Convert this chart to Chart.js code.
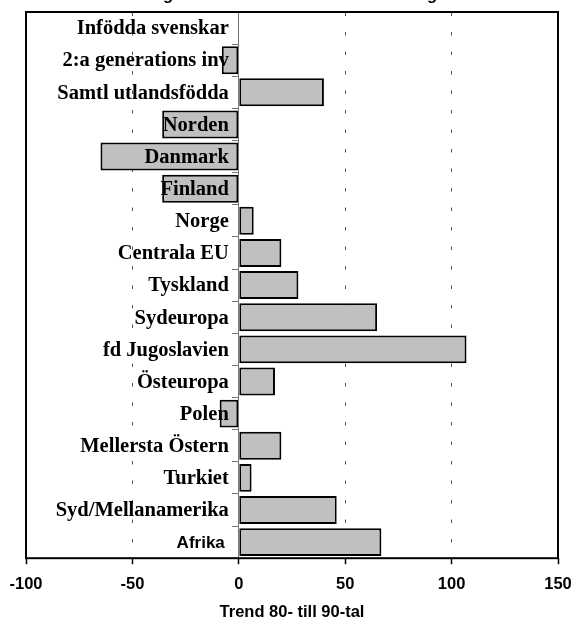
<!DOCTYPE html>
<html>
<head>
<meta charset="utf-8">
<script src="https://cdn.jsdelivr.net/npm/chart.js@4.4.1/dist/chart.umd.min.js"></script>
<style>
  html, body { margin: 0; padding: 0; background: #fff; }
  #wrap { width: 575px; height: 619px; }
</style>
</head>
<body>
<div id="wrap"><canvas id="trendChart" width="575" height="619"></canvas></div>
<script>
// Trend 80- till 90-tal per ursprungsgrupp

// ------------------------------------------------------------
// DATA
// ------------------------------------------------------------
const categories = [
    'Infödda svenskar', '2:a generations inv', 'Samtl utlandsfödda', 'Norden',
    'Danmark', 'Finland', 'Norge', 'Centrala EU', 'Tyskland', 'Sydeuropa',
    'fd Jugoslavien', 'Östeuropa', 'Polen', 'Mellersta Östern', 'Turkiet',
    'Syd/Mellanamerika', 'Afrika'
];
const trendValues = [0, -8, 40, -36, -65, -36, 7, 20, 28, 65, 107, 17, -9, 20, 6, 46, 67];
const xTicks = [-100, -50, 0, 50, 100, 150];
const dashedGridAt = [-50, 50, 100];

const titleText = 'Förändring i förvärvsfrekvens efter landbakgrund';
const axisTitle = 'Trend 80- till 90-tal';

// fonts
const serifBold = 'bold 20.5px "Liberation Serif", "Times New Roman", serif';
const afrikaFont = 'bold 17px "Liberation Sans", Arial, sans-serif';
const sansBold = { family: '"Liberation Sans", Arial, sans-serif', size: 16.5, weight: 'bold' };

// ------------------------------------------------------------
// PLUGINS
// ------------------------------------------------------------
// frame round the plot area
const frameBox = {
    id: 'frameBox',
    afterDraw(chart) {
        const { ctx, chartArea: a } = chart;
        ctx.save();
        ctx.strokeStyle = '#000';
        ctx.lineWidth = 2;
        ctx.strokeRect(a.left, a.top, a.right - a.left, a.bottom - a.top);
        ctx.restore();
    }
};

// category names, right-aligned just left of the zero line, above the bars
const categoryNames = {
    id: 'categoryNames',
    afterDatasetsDraw(chart) {
        const { ctx, scales: { x, y } } = chart;
        const right = x.getPixelForValue(0) - 10;
        ctx.save();
        ctx.fillStyle = '#000';
        ctx.textAlign = 'right';
        ctx.textBaseline = 'middle';
        categories.forEach((name, i) => {
            const isLast = i === categories.length - 1;
            ctx.font = isLast ? afrikaFont : serifBold;
            ctx.fillText(name, isLast ? right - 4 : right, y.getPixelForValue(i) + 1);
        });
        ctx.restore();
    }
};

// chart title, cut off at the top edge of the picture
const clippedTitle = {
    id: 'clippedTitle',
    afterDraw(chart) {
        const ctx = chart.ctx;
        ctx.save();
        ctx.font = 'bold 16.5px "Liberation Sans", Arial, sans-serif';
        ctx.fillStyle = '#000';
        ctx.textBaseline = 'alphabetic';
        const lead = ctx.measureText('Förändrin').width + ctx.measureText('g').width / 2;
        ctx.fillText(titleText, 168 - lead, 0);
        ctx.restore();
    }
};

const noEdgePadding = scale => {
    scale.paddingLeft = 0;
    scale.paddingRight = 0;
    scale.paddingTop = 0;
    scale.paddingBottom = 0;
};

// ------------------------------------------------------------
// CHART
// ------------------------------------------------------------
new Chart(document.getElementById('trendChart'), {
    type: 'bar',
    data: {
        labels: categories,
        datasets: [{
            data: trendValues,
            backgroundColor: '#c0c0c0',
            borderColor: '#000',
            borderWidth: 2,
            borderSkipped: false,
            barPercentage: 0.87,
            categoryPercentage: 1
        }]
    },
    options: {
        indexAxis: 'y',
        responsive: false,
        animation: false,
        layout: { padding: { left: 26, right: 17, top: 12, bottom: -1.5 } },
        plugins: {
            legend: { display: false },
            tooltip: { enabled: false }
        },
        scales: {
            x: {
                type: 'linear',
                min: -100,
                max: 150,
                afterBuildTicks: scale => { scale.ticks = xTicks.map(v => ({ value: v })); },
                afterFit: noEdgePadding,
                ticks: { color: '#000', font: sansBold, padding: 10 },
                grid: {
                    color: c => dashedGridAt.includes(c.tick && c.tick.value) ? '#555' : 'rgba(0,0,0,0)',
                    lineWidth: 1,
                    drawTicks: true,
                    tickLength: 6,
                    tickColor: '#000',
                    tickWidth: 1.5
                },
                border: { display: false, dash: [3.5, 16], dashOffset: 19 },
                title: {
                    display: true,
                    text: axisTitle,
                    color: '#000',
                    font: { ...sansBold, lineHeight: 1 },
                    padding: { top: 0, bottom: 0 }
                }
            },
            y: {
                type: 'category',
                position: { x: 0 },
                afterFit: noEdgePadding,
                ticks: { display: false },
                grid: {
                    offset: true,
                    drawOnChartArea: false,
                    drawTicks: true,
                    tickLength: 6,
                    tickColor: '#777',
                    tickWidth: 1
                },
                border: { display: true, color: '#777', width: 1, z: 1 }
            }
        }
    },
    plugins: [frameBox, categoryNames, clippedTitle]
});
</script>
</body>
</html>
